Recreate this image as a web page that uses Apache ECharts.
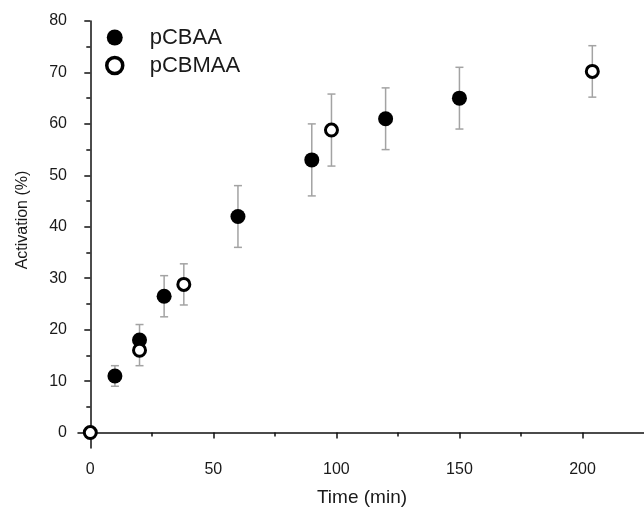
<!DOCTYPE html>
<html>
<head>
<meta charset="utf-8">
<script src="https://cdn.jsdelivr.net/npm/echarts@6/dist/echarts.min.js"></script>
<style>
html,body{margin:0;padding:0;background:#fff;}
#chart{width:644px;height:508px;}
</style>
</head>
<body>
<div id="chart"></div>
<script>
// ---- data ----
const pcbaaTime = [10, 20, 30, 60, 90, 120, 150];
const pcbaaAct  = [11, 18, 26.5, 42, 53, 61, 65];
const pcbaaErr  = [2, 3, 4, 6, 7, 6, 6];

const pcbmaaTime = [0, 20, 38, 98, 204];
const pcbmaaAct  = [0, 16, 28.8, 58.8, 70.2];
const pcbmaaErr  = [0, 3, 4, 7, 5];

const xMajorTicks = [0, 50, 100, 150, 200];
const xMinorTicks = [25, 75, 125, 175];
const yMajorTicks = [0, 10, 20, 30, 40, 50, 60, 70, 80];
const yMinorTicks = [5, 15, 25, 35, 45, 55, 65, 75];

const seriesNames = ['pCBAA', 'pCBMAA'];
const xTitle = 'Time (min)';
const yTitle = 'Activation (%)';

// ---- build ----
const pts = (t, a) => t.map((v, i) => [v, a[i]]);
const errs = (t, a, e) => t.map((v, i) => [v, a[i] - e[i], a[i] + e[i]]).filter((d, i) => e[i] > 0);

function renderErr(params, api) {
  const x = api.value(0), lo = api.value(1), hi = api.value(2);
  const top = api.coord([x, hi]);
  const bot = api.coord([x, lo]);
  const w = 4;
  const style = { stroke: '#a3a3a3', lineWidth: 1.5, fill: null };
  return {
    type: 'group',
    children: [
      { type: 'line', shape: { x1: top[0], y1: top[1], x2: bot[0], y2: bot[1] }, style: style },
      { type: 'line', shape: { x1: top[0] - w, y1: top[1], x2: top[0] + w, y2: top[1] }, style: style },
      { type: 'line', shape: { x1: bot[0] - w, y1: bot[1], x2: bot[0] + w, y2: bot[1] }, style: style }
    ]
  };
}

const font = 'Liberation Sans, Arial, sans-serif';
const txtColor = '#1a1a1a';
const axisLine = { show: true, lineStyle: { color: '#111', width: 1.5 } };

const chart = echarts.init(document.getElementById('chart'), null, { renderer: 'canvas' });
chart.setOption({
  animation: false,
  backgroundColor: '#fff',
  textStyle: { fontFamily: font },
  grid: { left: 78, right: 0, top: 21, bottom: 60, containLabel: false },
  legend: {
    data: [
      { name: seriesNames[0], icon: 'circle' },
      { name: seriesNames[1], icon: 'circle', itemStyle: { color: '#fff', borderColor: '#000', borderWidth: 3.5 } }
    ],
    orient: 'vertical',
    left: 100,
    top: 21,
    itemWidth: 16,
    itemHeight: 16,
    itemGap: 5,
    textStyle: { fontSize: 22, color: txtColor, fontFamily: font, padding: [0, 0, 0, 22], lineHeight: 23 }
  },
  xAxis: [
    {
      type: 'value', min: -5, max: 225, position: 'bottom',
      axisLine: axisLine,
      axisTick: { show: true, inside: false, length: 6, customValues: xMajorTicks, lineStyle: { color: '#111', width: 1.5 } },
      axisLabel: { customValues: xMajorTicks, fontSize: 16, color: txtColor, margin: 14, fontFamily: font },
      splitLine: { show: false }
    },
    {
      type: 'value', min: -5, max: 225, position: 'bottom',
      axisLine: { show: false },
      axisTick: { show: true, inside: false, length: 4, customValues: xMinorTicks, lineStyle: { color: '#111', width: 1.5 } },
      axisLabel: { show: false },
      splitLine: { show: false }
    }
  ],
  yAxis: [
    {
      type: 'value', min: -3, max: 80, position: 'left',
      axisLine: axisLine,
      axisTick: { show: true, inside: false, length: 6, customValues: yMajorTicks, lineStyle: { color: '#111', width: 1.5 } },
      axisLabel: { customValues: yMajorTicks, fontSize: 16, color: txtColor, margin: 11, fontFamily: font },
      splitLine: { show: false }
    },
    {
      type: 'value', min: -3, max: 80, position: 'left',
      axisLine: { show: false },
      axisTick: { show: true, inside: false, length: 4, customValues: yMinorTicks, lineStyle: { color: '#111', width: 1.5 } },
      axisLabel: { show: false },
      splitLine: { show: false }
    }
  ],
  graphic: [
    {
      type: 'text', x: 362, y: 498,
      style: { text: xTitle, font: '19px ' + font, fill: txtColor, textAlign: 'center', textVerticalAlign: 'middle' }
    },
    {
      type: 'text', x: 23, y: 220, rotation: Math.PI / 2,
      style: { text: yTitle, font: '16px ' + font, fill: txtColor, textAlign: 'center', textVerticalAlign: 'middle' }
    }
  ],
  series: [
    {
      type: 'custom', name: 'errA', renderItem: renderErr, data: errs(pcbaaTime, pcbaaAct, pcbaaErr),
      z: 1, silent: true, encode: { x: 0, y: [1, 2] }
    },
    {
      type: 'custom', name: 'errB', renderItem: renderErr, data: errs(pcbmaaTime, pcbmaaAct, pcbmaaErr),
      z: 1, silent: true, encode: { x: 0, y: [1, 2] }
    },
    {
      type: 'scatter', name: seriesNames[0], data: pts(pcbaaTime, pcbaaAct),
      symbol: 'circle', symbolSize: 15, z: 3,
      itemStyle: { color: '#000', opacity: 1 }
    },
    {
      type: 'scatter', name: seriesNames[1], data: pts(pcbmaaTime, pcbmaaAct),
      symbol: 'circle', symbolSize: 12, z: 4,
      itemStyle: { color: '#fff', borderColor: '#000', borderWidth: 3, opacity: 1 }
    }
  ]
});
</script>
</body>
</html>
